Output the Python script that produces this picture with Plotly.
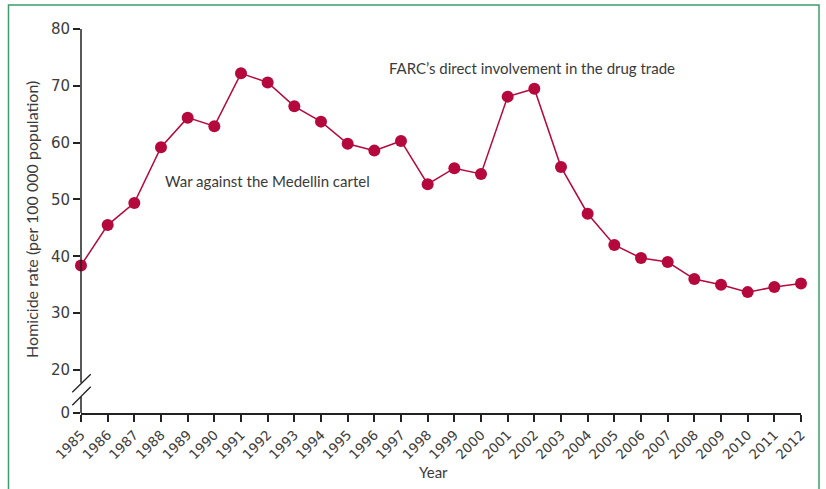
import plotly.graph_objects as go

years = list(range(1985, 2013))
homicide_rate = [38.4, 45.5, 49.4, 59.2, 64.4, 62.9, 72.2, 70.6, 66.4, 63.7,
                 59.8, 58.6, 60.3, 52.7, 55.5, 54.5, 68.1, 69.5, 55.7, 47.5,
                 42.0, 39.7, 39.0, 36.0, 35.0, 33.7, 34.6, 35.2]
ytick_vals = [20, 30, 40, 50, 60, 70, 80]
annot_war = "War against the Medellin cartel"
annot_farc = "FARC\u2019s direct involvement in the drug trade"

Y_ZERO = 12.43  # displayed "0" position on the broken axis
RED = "#b5083c"
AX = "#222222"
TXT = "#3c3c3c"

fig = go.Figure()
fig.add_trace(go.Scatter(
    x=years, y=homicide_rate, mode="lines+markers",
    line=dict(color=RED, width=1.5),
    marker=dict(color=RED, size=12),
    cliponaxis=False, showlegend=False, hoverinfo="x+y"))

shapes = [
    # green frame
    dict(type="rect", xref="paper", yref="paper", x0=-0.1007, x1=1.025, y0=-0.4, y1=1.0625,
         line=dict(color="#3f9c6c", width=1.5), layer="below"),
    # y axis line with break
    dict(type="line", xref="paper", yref="y", x0=0, x1=0, y0=80, y1=17.75,
         line=dict(color=AX, width=1.5)),
    dict(type="line", xref="paper", yref="y", x0=0, x1=0, y0=15.3, y1=Y_ZERO,
         line=dict(color=AX, width=1.5)),
    dict(type="line", xref="paper", yref="y", x0=-0.0121, x1=0.0135, y0=16.07, y1=19.24,
         line=dict(color=AX, width=1.3)),
    dict(type="line", xref="paper", yref="y", x0=-0.0121, x1=0.0135, y0=13.79, y1=17.06,
         line=dict(color=AX, width=1.3)),
]

annotations = [
    dict(x=1988.07, y=53.25, xref="x", yref="y", text=annot_war, showarrow=False,
         xanchor="left", yanchor="middle", font=dict(family="Lato", size=15, color="#3a3a3a")),
    dict(x=1996.47, y=73.14, xref="x", yref="y", text=annot_farc, showarrow=False,
         xanchor="left", yanchor="middle", font=dict(family="Lato", size=15, color="#3a3a3a")),
    dict(x=0.489, y=-0.154, xref="paper", yref="paper", text="Year", showarrow=False,
         xanchor="center", yanchor="middle", font=dict(family="Lato", size=15, color="#3a3a3a")),
    dict(x=-0.068, y=0.503, xref="paper", yref="paper",
         text="Homicide rate (per 100 000 population)", textangle=-90, showarrow=False,
         xanchor="center", yanchor="middle", font=dict(family="Lato", size=16, color="#3a3a3a")),
]

fig.update_layout(
    width=826, height=489,
    margin=dict(l=81, r=25, t=29, b=76),
    paper_bgcolor="white", plot_bgcolor="white",
    shapes=shapes, annotations=annotations,
    xaxis=dict(range=[1985, 2012], tickvals=years, ticktext=[str(y) for y in years],
               tickangle=-45, ticks="outside", ticklen=7, tickwidth=1.5, tickcolor=AX,
               showline=True, linecolor=AX, linewidth=1.5, showgrid=False, zeroline=False,
               tickfont=dict(family="DejaVu Sans", size=13.5, color=TXT)),
    yaxis=dict(range=[Y_ZERO, 80], tickvals=[Y_ZERO] + ytick_vals,
               ticktext=["0"] + [str(v) for v in ytick_vals],
               ticks="outside", ticklen=7, tickwidth=1.5, tickcolor=AX,
               showline=False, showgrid=False, zeroline=False,
               tickfont=dict(family="DejaVu Sans", size=15, color=TXT)),
)

fig.write_html("out.html", config={"displayModeBar": False},
               post_script="document.body.style.margin='0';")
